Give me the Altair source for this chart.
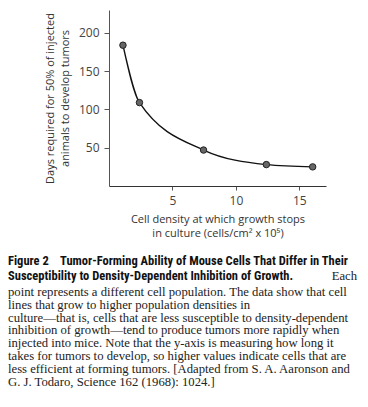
import altair as alt
import pandas as pd

# Data
density = [1.1, 2.4, 7.45, 12.4, 16.05]
days = [184, 109, 47, 28, 25]

x_ticks = [5, 10, 15]
y_ticks = [50, 100, 150, 200]

x_title = ["Cell density at which growth stops", "in culture (cells/cm² x 10⁵)"]
y_title = ["Days required for 50% of injected", "animals to develop tumors"]

caption_label = "Figure 2"
caption_head = [
    "Tumor-Forming Ability of Mouse Cells That Differ in Their",
    "Susceptibility to Density-Dependent Inhibition of Growth.",
]
caption_head_tail = "Each"
caption_body = [
    "point represents a different cell population. The data show that cell",
    "lines that grow to higher population densities in",
    "culture—that is, cells that are less susceptible to density-dependent",
    "inhibition of growth—tend to produce tumors more rapidly when",
    "injected into mice. Note that the y-axis is measuring how long it",
    "takes for tumors to develop, so higher values indicate cells that are",
    "less efficient at forming tumors. [Adapted from S. A. Aaronson and",
    "G. J. Todaro, Science 162 (1968): 1024.]",
]

df = pd.DataFrame({"density": density, "days": days})

SANS = "Open Sans"
HEAD = "Roboto Condensed"
SERIF = "Liberation Serif"
W, H = 217, 176
LEFT, TOP = 101, 2

x_enc = alt.X(
    "density:Q",
    scale=alt.Scale(domain=[0, 17.1], nice=False, zero=True),
    axis=alt.Axis(
        values=x_ticks, title=x_title, grid=False, tickSize=4, labelPadding=5,
        labelFont=SANS, labelFontSize=12, labelColor="#444",
        titleFont=SANS, titleFontSize=11, titleFontWeight="normal", titleColor="#333",
        titlePadding=7, titleLineHeight=14, domainColor="#333", tickColor="#555",
    ),
)
y_enc = alt.Y(
    "days:Q",
    scale=alt.Scale(domain=[0, 230], nice=False),
    axis=alt.Axis(
        values=y_ticks, title=y_title, grid=False, tickSize=5, labelPadding=5,
        labelFont=SANS, labelFontSize=12, labelColor="#444",
        titleFont=SANS, titleFontSize=11, titleFontWeight="normal", titleColor="#333",
        titlePadding=8, titleLineHeight=15, domainColor="#555", tickColor="#555",
    ),
)

base = alt.Chart(df)
line = base.mark_line(interpolate="monotone", color="#111", strokeWidth=1.4).encode(x=x_enc, y=y_enc)
pts = base.mark_point(filled=True, size=42, color="#666", stroke="#222", strokeWidth=1, opacity=1).encode(
    x="density:Q", y="days:Q"
)

layers = [line, pts]

x0 = -LEFT
y_head = 251


def text_layer(t, x, y, **kw):
    return alt.Chart(pd.DataFrame({"t": [t]})).mark_text(
        baseline="middle", **kw
    ).encode(text="t:N", x=alt.value(x), y=alt.value(y))


layers.append(text_layer(caption_label, x0, y_head, font=HEAD, fontSize=12.5, fontWeight="bold",
                         align="left", color="#111"))
layers.append(text_layer(caption_head[0], x0 + 52, y_head, font=HEAD, fontSize=12.5, fontWeight="bold",
                         align="left", color="#111"))
layers.append(text_layer(caption_head[1], x0, y_head + 14.5, font=HEAD, fontSize=12.5, fontWeight="bold",
                         align="left", color="#111"))
layers.append(text_layer(caption_head_tail, W + 31, y_head + 14.5, font=SERIF, fontSize=12.7,
                         align="right", color="#222"))
y_body = y_head + 31
for i, t in enumerate(caption_body):
    layers.append(text_layer(t, x0, y_body + i * 12.8, font=SERIF, fontSize=12.7, align="left", color="#222"))

chart = alt.layer(*layers).properties(
    width=W, height=H,
    autosize=alt.AutoSizeParams(type="none"),
    padding={"left": LEFT, "top": TOP, "right": 34, "bottom": 213},
).configure_view(stroke=None)

chart.save("out.html", embed_options={"renderer": "svg", "actions": False})
